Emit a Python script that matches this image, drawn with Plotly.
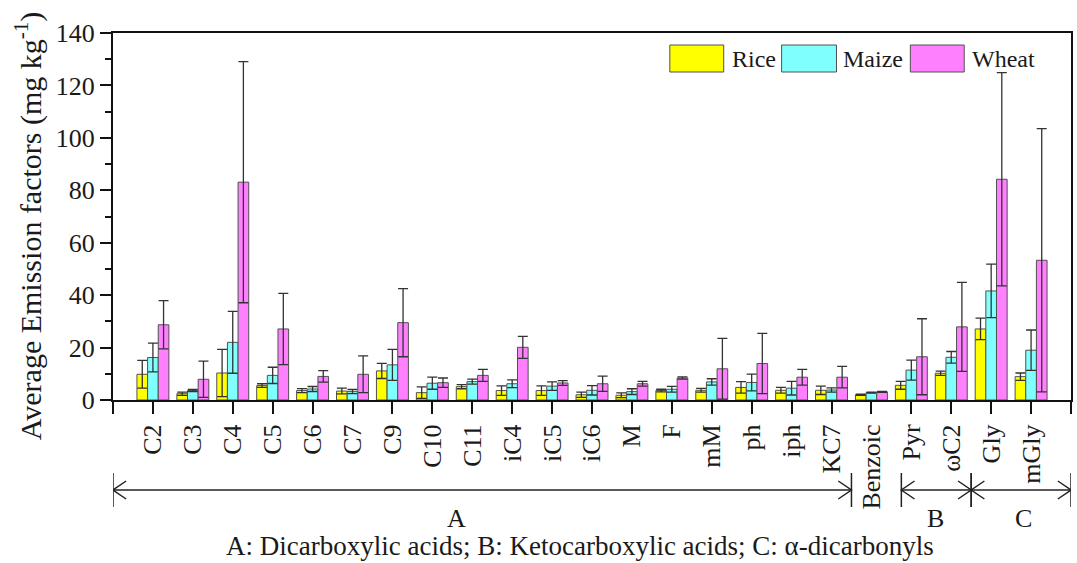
import plotly.graph_objects as go

categories = ["C2", "C3", "C4", "C5", "C6", "C7", "C9", "C10", "C11", "iC4", "iC5", "iC6",
              "M", "F", "mM", "ph", "iph", "KC7", "Benzoic", "Pyr", "ωC2", "Gly", "mGly"]

rice = [9.8, 2.4, 10.3, 5.5, 3.6, 3.4, 11.1, 2.8, 5.1, 3.6, 3.6, 2.0,
        1.8, 3.6, 3.7, 4.8, 3.7, 3.7, 2.0, 5.6, 10.2, 27.1, 8.9]
rice_sd = [5.3, 0.6, 9.0, 0.7, 0.75, 1.1, 2.9, 2.2, 0.8, 1.8, 1.8, 1.0,
           0.9, 0.5, 0.7, 2.2, 1.1, 1.6, 0.2, 1.5, 0.8, 4.1, 1.4]
maize = [16.2, 3.6, 22.0, 9.4, 4.2, 3.2, 13.4, 6.4, 7.0, 6.2, 5.3, 3.7,
         3.2, 4.1, 6.9, 6.7, 4.5, 3.8, 2.8, 11.4, 16.3, 41.6, 19.0]
maize_sd = [5.5, 0.4, 11.8, 3.1, 0.95, 0.8, 5.9, 2.3, 0.95, 1.5, 1.6, 1.8,
            1.1, 1.1, 1.2, 3.2, 2.6, 0.8, 0.2, 3.8, 2.2, 10.2, 7.7]
wheat = [28.7, 7.9, 83.1, 27.1, 9.0, 9.8, 29.5, 6.6, 9.4, 20.1, 6.5, 6.2,
         6.2, 8.4, 11.9, 13.9, 8.7, 8.7, 3.1, 16.5, 27.9, 84.2, 53.3]
wheat_sd = [9.2, 6.9, 46.0, 13.6, 2.2, 7.0, 13.0, 1.8, 2.3, 4.2, 0.9, 2.9,
            0.9, 0.4, 11.6, 11.5, 3.0, 4.1, 0.2, 14.5, 17.0, 40.7, 50.2]

series_names = ["Rice", "Maize", "Wheat"]
series_colors = ["#FFFF00", "#80FFFF", "#FF80FF"]

# groups: (label, start, end) in category-axis units
groups = [("A", 0, 18.5), ("B", 19.75, 21.5), ("C", 21.5, 24)]
group_label_x = [8.6, 20.6, 22.8]
caption = "A: Dicarboxylic acids; B: Ketocarboxylic acids; C: α-dicarbonyls"
y_title = "Average Emission factors (mg kg<sup>-1</sup>)"

FONT = "Times New Roman, Liberation Serif, serif"
TXT = "#1a1a1a"
x = list(range(1, len(categories) + 1))

fig = go.Figure()
for name, vals, sds, col in zip(series_names, [rice, maize, wheat],
                                [rice_sd, maize_sd, wheat_sd], series_colors):
    fig.add_trace(go.Bar(
        x=x, y=vals, name=name, marker=dict(color=col, line=dict(color="#505050", width=1)),
        error_y=dict(type="data", array=sds, visible=True, color="#333333",
                     thickness=1.3, width=5),
        showlegend=False))

# custom legend (large swatches like the reference)
leg_y0, leg_y1 = (400 - 72) / 367, (400 - 45) / 367
leg_items = [(671, 725, 731), (783, 838, 843), (912, 966, 972)]
for (sx0, sx1, tx), name, col in zip(leg_items, series_names, series_colors):
    fig.add_shape(type="rect", xref="paper", yref="paper",
                  x0=(sx0 - 113) / 960, x1=(sx1 - 113) / 960, y0=leg_y0, y1=leg_y1,
                  fillcolor=col, line=dict(color="#505050", width=1))
    fig.add_annotation(xref="paper", yref="paper", x=(tx - 113) / 960, y=(leg_y0 + leg_y1) / 2,
                       text=name, showarrow=False, xanchor="left", yanchor="middle",
                       font=dict(family=FONT, size=24, color=TXT))

# group brackets with open arrowheads
def py(Y):
    return (400 - Y) / 367

line_y = py(490)
bar_top, bar_bot = py(473), py(507)
ah_dx, ah_dy = 0.33, 9 / 367
for (label, a, b), lx in zip(groups, group_label_x):
    fig.add_shape(type="line", xref="x", yref="paper", x0=a, x1=b, y0=line_y, y1=line_y,
                  line=dict(color="#222", width=1.5))
    for xx in (a, b):
        fig.add_shape(type="line", xref="x", yref="paper", x0=xx, x1=xx, y0=bar_top, y1=bar_bot,
                      line=dict(color="#222", width=1.5))
    fig.add_shape(type="path", xref="x", yref="paper",
                  path=f"M {a + ah_dx},{line_y + ah_dy} L {a},{line_y} L {a + ah_dx},{line_y - ah_dy}",
                  line=dict(color="#222", width=1.5))
    fig.add_shape(type="path", xref="x", yref="paper",
                  path=f"M {b - ah_dx},{line_y + ah_dy} L {b},{line_y} L {b - ah_dx},{line_y - ah_dy}",
                  line=dict(color="#222", width=1.5))
    fig.add_annotation(xref="x", yref="paper", x=lx, y=py(518), text=label,
                       showarrow=False, xanchor="center", yanchor="middle",
                       font=dict(family=FONT, size=26, color=TXT))

fig.add_annotation(xref="x", yref="paper", x=11.7, y=py(546), text=caption, showarrow=False,
                   xanchor="center", yanchor="middle", font=dict(family=FONT, size=27, color=TXT))

# y-axis title as rotated annotation
fig.add_annotation(xref="paper", yref="paper", x=(28 - 113) / 960, y=py(226), text=y_title,
                   textangle=-90, showarrow=False, xanchor="center", yanchor="middle",
                   font=dict(family=FONT, size=30, color=TXT))

fig.update_layout(
    width=1077, height=563,
    margin=dict(l=113, r=4, t=33, b=163),
    paper_bgcolor="white", plot_bgcolor="white",
    barmode="group", bargap=0.2, bargroupgap=0,
    font=dict(family=FONT, size=26, color=TXT),
    xaxis=dict(range=[0, 24], tickmode="array", tickvals=x, ticktext=categories,
               tickangle=-90, ticks="outside", ticklen=12, tickwidth=2, tickcolor="#111",
               minor=dict(ticks="outside", ticklen=12, tickwidth=2, tickcolor="#111",
                          tickmode="linear", tick0=0, dtick=1),
               showline=True, linecolor="#111", linewidth=2, mirror=True,
               showgrid=False, zeroline=False, tickfont=dict(size=26)),
    yaxis=dict(range=[0, 140], tickmode="linear", tick0=0, dtick=20,
               ticks="outside", ticklen=11, tickwidth=2, tickcolor="#111",
               minor=dict(ticks="outside", ticklen=6, tickwidth=2, tickcolor="#111", dtick=10),
               showline=True, linecolor="#111", linewidth=2, mirror=True,
               showgrid=False, zeroline=False, tickfont=dict(size=26)),
)

fig.write_html("out.html")
